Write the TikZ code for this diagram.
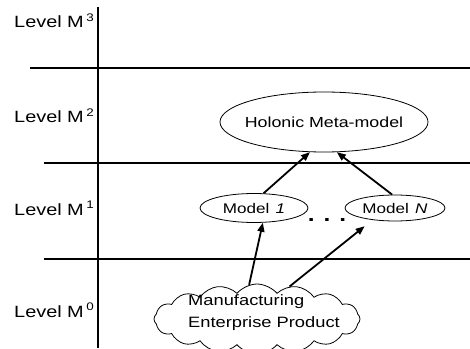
\documentclass[tikz,border=0pt]{standalone}
\usepackage{fontspec}
\setmainfont{Liberation Sans}[FakeStretch=1.22]
\usetikzlibrary{arrows.meta,shapes}
\newcommand{\levelname}[1]{Level M\hspace{2.5pt}\raisebox{6.5pt}{\fontsize{11}{11}\selectfont #1}}

\begin{document}
\begin{tikzpicture}[x=1pt,y=1pt,
	levellabel/.style={anchor=base west,inner sep=0,font=\fontsize{16.3}{19}\selectfont},
	modelbox/.style={draw,ellipse,line width=0.8pt,inner sep=0,font=\fontsize{14}{16}\selectfont},
	grid/.style={line width=1.1pt},
	uparrow/.style={line width=1.8pt,-{Triangle[length=9pt,width=7pt]}}]
		\useasboundingbox (0,0) rectangle (470,348);
		\clip (0,0) rectangle (470,348);
		\draw[line width=1.6pt] (98,341) -- (98,0);
		\draw[grid] (30,280) -- (470,280);
		\draw[grid] (44,185) -- (470,185);
		\draw[grid] (44,89) -- (470,89);
		\node[levellabel] (lvl3) at (14,320) {\levelname{3}};
		\node[levellabel] (lvl2) at (14,225) {\levelname{2}};
		\node[levellabel] (lvl1) at (14,133) {\levelname{1}};
		\node[levellabel] (lvl0) at (14,31) {\levelname{0}};
		\node[modelbox,inner xsep=-8pt,minimum width=208pt,minimum height=60pt,font=\fontsize{14.6}{16}\selectfont] (holon) at (324,226) {Holonic Meta-model};
		\node[modelbox,minimum width=108pt,minimum height=29pt] (model1) at (254,140) {Model\hspace{0.45em}\textit{1}};
		\node[modelbox,minimum width=100pt,minimum height=26pt] (modelN) at (395,140) {Model\hspace{0.45em}\textit{N}};
		\node[inner sep=0,font=\fontsize{20}{20}\selectfont\bfseries] (dots) at (327,128) {. . .};
		\node[draw,cloud,cloud puffs=16,cloud puff arc=100,cloud ignores aspect,line width=0.8pt,minimum width=206pt,minimum height=70pt] (product) at (257,29) {};
		\node[align=left,inner sep=0,font=\fontsize{15}{22}\selectfont] (producttext) at (264,35) {Manufacturing\\Enterprise Product};
		\draw[uparrow] (model1.57) -- (holon.245);
		\draw[uparrow] (modelN.102) -- (holon.293);
		\draw[uparrow] (product.103) -- (model1.301);
		\draw[uparrow,shorten >=10pt] (product.45) -- (modelN.208);
\end{tikzpicture}
\end{document}
